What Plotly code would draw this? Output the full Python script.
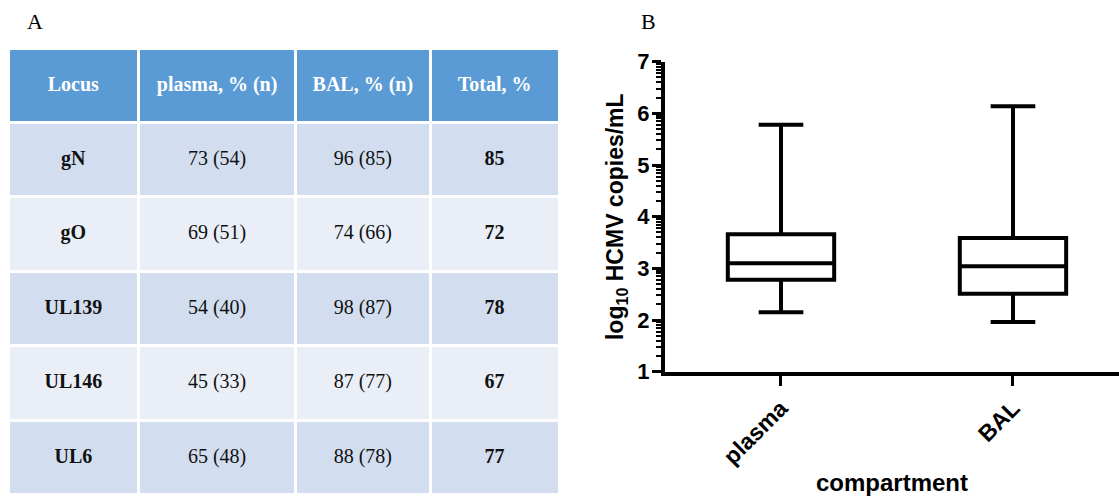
import numpy as np
import plotly.graph_objects as go

# ---- Panel A: detection by locus ----
loci = ["gN", "gO", "UL139", "UL146", "UL6"]
plasma_pct = ["73 (54)", "69 (51)", "54 (40)", "45 (33)", "65 (48)"]
bal_pct = ["96 (85)", "74 (66)", "98 (87)", "87 (77)", "88 (78)"]
total_pct = ["85", "72", "78", "67", "77"]
table_headers = ["Locus", "plasma, % (n)", "BAL, % (n)", "Total, %"]

# ---- Panel B: viral load summary (log10 copies/mL) ----
compartments = ["plasma", "BAL"]
lower_whisker = [2.15, 1.96]
q1_vals = [2.78, 2.51]
median_vals = [3.10, 3.04]
q3_vals = [3.66, 3.59]
upper_whisker = [5.78, 6.14]

W, H = 1119, 496
TXT = 20          # displayed text size in the table
BASE = 16         # cell font size; sets the height of the leading spacer line


def cell(text, bold=False):
    """Put a spacer line above the text so it sits mid-cell."""
    body = f"<b>{text}</b>" if bold else text
    return f"&nbsp;<br><span style='font-size:{TXT}px'>{body}</span>"


row_fill = ["#D2DEEF" if i % 2 == 0 else "#EAEFF7" for i in range(len(loci))]

fig = go.Figure()

fig.add_trace(go.Table(
    domain=dict(x=[8 / W, 560 / W], y=[0, (H - 48) / H]),
    columnwidth=[131, 157, 135, 129],
    header=dict(
        values=[cell(h, bold=True) for h in table_headers],
        fill_color="#5B9BD5",
        line=dict(color="white", width=3),
        align="center",
        height=74,
        font=dict(family="Liberation Serif", size=BASE, color="white"),
    ),
    cells=dict(
        values=[
            [cell(v, bold=True) for v in loci],
            [cell(v) for v in plasma_pct],
            [cell(v) for v in bal_pct],
            [cell(v, bold=True) for v in total_pct],
        ],
        fill_color=[row_fill] * 4,
        line=dict(color="white", width=3),
        align="center",
        height=74.5,
        font=dict(family="Liberation Serif", size=BASE, color="#111111"),
    ),
))

for i, name in enumerate(compartments):
    fig.add_trace(go.Box(
        x=[name],
        q1=[q1_vals[i]],
        median=[median_vals[i]],
        q3=[q3_vals[i]],
        lowerfence=[lower_whisker[i]],
        upperfence=[upper_whisker[i]],
        line=dict(color="black", width=4),
        fillcolor="white",
        whiskerwidth=0.42,
        boxpoints=False,
        showlegend=False,
        xaxis="x",
        yaxis="y",
    ))

# log-spaced minor ticks between integer decades
minor_vals = [n + np.log10(k) for n in range(1, 7) for k in range(2, 10)]

fig.update_layout(
    template="none",
    width=W,
    height=H,
    margin=dict(l=0, r=0, t=0, b=0, autoexpand=False),
    paper_bgcolor="white",
    plot_bgcolor="white",
    boxgap=0.345,
    xaxis=dict(
        domain=[665 / W, 1.0],
        range=[-0.5, 1.457],
        automargin=False,
        showline=True,
        linecolor="black",
        linewidth=4,
        ticks="outside",
        ticklen=10,
        tickwidth=3,
        tickcolor="black",
        tickangle=-45,
        tickfont=dict(family="Liberation Sans", size=23, color="black", weight="bold"),
        title=dict(text="<b>compartment</b>",
                   font=dict(family="Liberation Sans", size=24, color="black"),
                   standoff=12),
        showgrid=False,
        zeroline=False,
    ),
    yaxis=dict(
        domain=[(H - 371.7) / H, (H - 61.7) / H],
        range=[1, 7],
        tickvals=[1, 2, 3, 4, 5, 6, 7],
        automargin=False,
        showline=True,
        linecolor="black",
        linewidth=4,
        ticks="outside",
        ticklen=9,
        tickwidth=3,
        tickcolor="black",
        ticklabelstandoff=-2,
        tickfont=dict(family="Liberation Sans", size=22, color="black", weight="bold"),
        minor=dict(tickmode="array", tickvals=minor_vals, ticks="outside",
                   ticklen=5, tickwidth=2, tickcolor="black", showgrid=False),
        title=dict(text="<b>log<sub>10</sub> HCMV copies/mL</b>",
                   font=dict(family="Liberation Sans", size=23, color="black"),
                   standoff=8),
        showgrid=False,
        zeroline=False,
    ),
    annotations=[
        dict(text="A", x=35 / W, y=1 - 22 / H, xref="paper", yref="paper",
             showarrow=False, xanchor="center", yanchor="middle",
             font=dict(family="Liberation Serif", size=22, color="black")),
        dict(text="B", x=648 / W, y=1 - 22 / H, xref="paper", yref="paper",
             showarrow=False, xanchor="center", yanchor="middle",
             font=dict(family="Liberation Serif", size=22, color="black")),
    ],
)

fig.write_html("out.html")
